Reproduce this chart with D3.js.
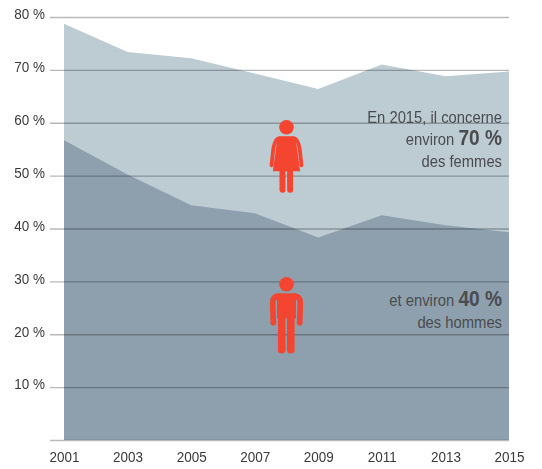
<!DOCTYPE html>
<html>
<head>
<meta charset="utf-8">
<script src="https://cdnjs.cloudflare.com/ajax/libs/d3/7.8.5/d3.min.js"></script>
<style>
body { margin: 0; background: #fff; }
svg { display: block; }
text { font-family: "Liberation Sans", sans-serif; }
.axis text { font-size: 15.5px; fill: #3a3a3a; }
.axis path { display: none; }
.grid line { stroke: #b9b9b9; stroke-width: 1.3; }
.grid { mix-blend-mode: multiply; }
.note { font-size: 17px; fill: #4a4c4f; text-anchor: end; }
.note .big { font-size: 22px; font-weight: bold; }
</style>
</head>
<body>
<script>
var years = [2001, 2003, 2005, 2007, 2009, 2011, 2013, 2015];
var femmes = [78.7, 73.4, 72.2, 69.3, 66.4, 71.0, 68.8, 69.7];
var hommes = [56.7, 50.2, 44.4, 42.9, 38.3, 42.5, 40.6, 39.3];
var yTicks = [0, 10, 20, 30, 40, 50, 60, 70, 80];

var width = 542, height = 469;
var left = 50;
var squeeze = 0.87; // the original face is a condensed grotesque

var x = d3.scaleLinear().domain([2001, 2015]).range([64, 509]);
var y = d3.scaleLinear().domain([0, 80]).range([440, 17]);

var svg = d3.select("body").append("svg")
    .attr("width", width)
    .attr("height", height);

var area = d3.area()
    .x(function(d, i) { return x(years[i]); })
    .y0(y(0))
    .y1(function(d) { return y(d); });

svg.append("path").attr("d", area(femmes)).attr("fill", "#bdcbd3");
svg.append("path").attr("d", area(hommes)).attr("fill", "#8ea0ae");

// grid goes over the areas, multiply gives the darker line on them
var grid = d3.axisLeft(y)
    .tickValues(yTicks)
    .tickSize(-(x.range()[1] - left))
    .tickFormat("");

svg.append("g")
    .attr("class", "axis grid")
    .attr("transform", "translate(" + left + ",0)")
    .call(grid);

var yAxis = d3.axisLeft(y)
    .tickValues(yTicks)
    .tickSize(0)
    .tickFormat(function(d) { return d ? d + " %" : ""; });

svg.append("g")
    .attr("class", "axis")
    .attr("transform", "translate(" + left + ",0)")
    .call(yAxis)
    .selectAll("text")
    .attr("x", 0)
    .attr("dy", "0.12em")
    .attr("transform", "translate(-5,0) scale(" + squeeze + ",1)");

var xAxis = d3.axisBottom(x)
    .tickValues(years)
    .tickFormat(d3.format("d"))
    .tickSize(0)
    .tickPadding(11);

svg.append("g")
    .attr("class", "axis")
    .attr("transform", "translate(0," + y(0) + ")")
    .call(xAxis)
    .selectAll("text")
    .attr("transform", "scale(" + squeeze + ",1)");

// pictograms, drawn around the head centre
var red = "#f44530";

function figure(cx, cy) {
    var g = svg.append("g").attr("transform", "translate(" + cx + "," + cy + ")");
    g.append("circle").attr("r", 7.3).attr("fill", red);
    return g;
}

function limb(g, d, w) {
    g.append("path").attr("d", d)
        .attr("fill", "none")
        .attr("stroke", red)
        .attr("stroke-width", w)
        .attr("stroke-linecap", "round")
        .attr("stroke-linejoin", "round");
}

var woman = figure(x(2008), 127.3);
woman.append("path")
    .attr("d", "M-6,9 L6,9 Q9,9 9.5,14 L13.7,44 L-13.7,44 L-9.5,14 Q-9,9 -6,9 Z")
    .attr("fill", red);
limb(woman, "M-7,10.8 Q-11,11 -13,20 L-15,38", 3.8);
limb(woman, "M7,10.8 Q11,11 13,20 L15,38", 3.8);
limb(woman, "M-4,44 L-4,62.5", 6);
limb(woman, "M3.6,44 L3.6,62.5", 6);

var man = figure(x(2008), 284.3);
man.append("path")
    .attr("d", "M-9.5,9 L9.5,9 L9.5,34 L-9.5,34 Z")
    .attr("fill", red);
limb(man, "M-8,11.8 Q-13.8,11.8 -13.8,19 L-13.2,38.5", 5.6);
limb(man, "M8,11.8 Q13.8,11.8 13.8,19 L13.2,38.5", 5.6);
limb(man, "M-4.8,33 L-4.8,65.5", 7.6);
limb(man, "M4.3,33 L4.3,65.5", 7.6);

// annotations
var noteX = 502;

function note(yPos, parts) {
    var t = svg.append("text")
        .attr("class", "note")
        .attr("transform", "translate(" + noteX + "," + yPos + ") scale(" + squeeze + ",1)");
    parts.forEach(function(p) {
        t.append("tspan").attr("class", p.big ? "big" : null).text(p.text);
    });
}

note(122.5, [{text: "En 2015, il concerne"}]);
note(145, [{text: "environ "}, {text: "70 %", big: true}]);
note(167, [{text: "des femmes"}]);
note(305.5, [{text: "et environ "}, {text: "40 %", big: true}]);
note(328, [{text: "des hommes"}]);
</script>
</body>
</html>
